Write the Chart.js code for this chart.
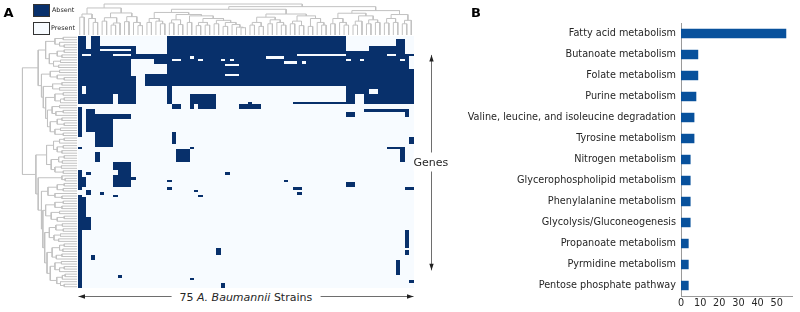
<!DOCTYPE html>
<html>
<head>
<meta charset="utf-8">
<script src="https://cdn.jsdelivr.net/npm/chart.js@4.4.1/dist/chart.umd.min.js"></script>
<style>
  html, body { margin: 0; padding: 0; background: #fff; }
  body { width: 800px; height: 312px; position: relative; overflow: hidden;
         font-family: "DejaVu Sans", sans-serif; color: #262626; }
  #heat { position: absolute; left: 0; top: 0; }
  #bars { position: absolute; left: 440px; top: 0; }
  .lbl { position: absolute; white-space: nowrap; line-height: 1; transform: translate(-50%, -50%); }
  .panel { font-weight: bold; font-size: 13px; color: #000; }
  .key { position: absolute; width: 15px; height: 11px; border: 1px solid #333; }
  .keytxt { position: absolute; font-size: 6.4px; line-height: 1; transform: translateY(-50%); white-space: nowrap; }
</style>
</head>
<body>
<canvas id="heat" width="440" height="312"></canvas>
<canvas id="bars" width="360" height="312"></canvas>

<div class="lbl panel" style="left:8.5px; top:11.5px;">A</div>
<div class="lbl panel" style="left:476px; top:11.5px;">B</div>
<div class="key" style="left:33px; top:3.5px; background:#08306b;"></div>
<div class="keytxt" style="left:52px; top:9.7px;">Absent</div>
<div class="key" style="left:33px; top:22px; background:#f7fbff;"></div>
<div class="keytxt" style="left:51px; top:27.7px;">Present</div>
<div class="lbl" style="left:430.8px; top:161.5px; font-size:11px; background:#fff; padding:4px 0;">Genes</div>
<div class="lbl" style="left:245.8px; top:296.6px; font-size:11px; background:#fff; padding:1px 8px;">75 <i>A. Baumannii</i> Strains</div>

<script>
// panel A: presence / absence of genes across strains
const nStrains = 75;
const nGenes = 100;

// [firstStrain, lastStrain + 1, firstGene, lastGene + 1]
const absentBlocks = [
  [0, 2, 0, 27], [2, 3, 5, 27], [3, 5, 0, 27], [5, 13, 4, 27],
  [13, 20, 7, 9], [17, 20, 9, 11], [15, 20, 15, 20], [20, 60, 0, 20],
  [20, 21, 20, 27], [21, 23, 27, 29], [25, 31, 23, 27], [25, 26, 27, 29],
  [27, 31, 27, 29], [38, 39, 26, 27], [36, 41, 27, 29], [48, 60, 26, 27],
  [60, 65, 6, 27], [65, 71, 4, 27], [71, 73, 1, 27], [73, 75, 7, 27],
  [60, 62, 30, 32], [64, 74, 29, 30], [73, 74, 29, 32], [74, 75, 40, 43],
  [69, 73, 44, 45], [72, 73, 45, 50],
  [0, 1, 28, 40], [0, 1, 44, 45], [2, 4, 29, 38], [4, 8, 31, 44], [8, 12, 31, 33],
  [21, 22, 38, 43], [22, 25, 45, 50], [25, 26, 44, 45], [4, 5, 46, 50],
  [8, 12, 50, 60], [12, 13, 56, 57], [0, 1, 53, 61], [1, 2, 56, 60],
  [2, 3, 54, 55], [2, 3, 61, 63], [5, 6, 62, 63], [8, 9, 63, 64],
  [20, 21, 57, 58], [20, 21, 60, 61], [26, 27, 61, 62], [27, 28, 63, 64],
  [33, 34, 54, 55], [0, 1, 63, 100], [1, 2, 64, 77], [2, 3, 72, 77],
  [3, 4, 87, 89], [9, 10, 95, 96], [25, 26, 96, 97], [31, 32, 84, 87],
  [32, 33, 98, 100], [46, 47, 57, 58], [48, 50, 60, 61], [49, 50, 62, 63],
  [60, 62, 58, 60], [73, 75, 60, 61], [73, 74, 77, 84], [73, 74, 85, 87],
  [71, 72, 89, 95], [74, 75, 97, 98]
];

// present cells inside the absent blocks
const presentGaps = [
  [1, 2, 20, 23], [5, 12, 5, 6], [8, 12, 7, 8], [1, 3, 7, 8], [8, 9, 23, 27],
  [12, 13, 9, 16], [21, 23, 9, 10], [25, 26, 8, 9], [27, 28, 9, 10],
  [32, 33, 9, 10], [34, 35, 9, 10], [33, 36, 11, 12], [33, 36, 15, 16],
  [42, 46, 8, 9], [49, 60, 7, 8], [46, 49, 10, 11], [50, 51, 10, 11],
  [62, 64, 23, 27], [65, 67, 21, 23], [69, 71, 7, 8], [60, 61, 9, 10],
  [63, 64, 9, 10], [72, 73, 9, 10], [74, 75, 8, 13], [8, 9, 53, 55]
];

// dendrograms: [height, left, right], leaves are strain / gene indices
const strainTree = [1.0,
  [0.85, [0.62, [0.5, 0, 1], [0.45, 2, [0.3, 3, 4]]],
         [0.66, [0.48, [0.35, 5, 6], [0.28, [0.2, 7, 8], 9]], [0.52, [0.33, 10, 11], [0.3, 12, [0.18, 13, 14]]]]],
  [0.9,
    [0.8,
      [0.68, [0.45, [0.3, 15, 16], [0.35, 17, [0.25, 18, 19]]],
             [0.6, [0.4, [0.28, 20, 21], [0.22, 22, 23]],
                   [0.55, [0.3, 24, 25],
                          [0.45, [0.3, [0.18, 26, 27], [0.2, 28, 29]],
                                 [0.38, [0.25, 30, 31], [0.3, [0.15, 32, 33], [0.22, 34, [0.12, 35, [0.1, 36, 37]]]]]]]]],
      [0.62, [0.5, [0.3, [0.2, 38, 39], [0.15, 40, 41]], [0.4, [0.25, 42, 43], [0.3, 44, [0.2, 45, 46]]]],
             [0.55, [0.35, [0.25, 47, 48], [0.18, 49, 50]], [0.45, [0.15, 51, 52], [0.3, 53, [0.2, 54, 55]]]]]],
    [0.75, [0.65, [0.45, [0.25, 56, 57], [0.3, 58, [0.2, 59, 60]]],
                  [0.55, [0.35, [0.2, 61, 62], 63], [0.4, [0.25, 64, 65], [0.3, 66, 67]]]],
           [0.6, [0.45, [0.28, 68, 69], [0.3, 70, 71]], [0.38, [0.25, 72, 73], 74]]]]
];

const geneTree = [1.0,
  [0.66,
    [0.5, [0.3, [0.12, 0, 1], [0.2, 2, [0.1, 3, 4]]],
          [0.42, [0.25, [0.1, 5, 6], [0.15, 7, 8]], [0.33, [0.18, 9, 10], [0.22, 11, 12]]]],
    [0.59, [0.4, [0.2, 13, 14], [0.25, 15, [0.1, 16, 17]]],
      [0.55, [0.35, [0.15, 18, 19], [0.2, 20, 21]],
        [0.5, [0.3, [0.12, 22, 23], [0.18, [0.1, 24, 25], 26]],
          [0.46, [0.36, [0.2, 27, 28], [0.28, [0.12, 29, 30], 31]],
            [0.4, [0.25, [0.15, 32, 33], [0.1, 34, 35]], [0.3, [0.18, 36, 37], [0.12, 38, 39]]]]]]]],
  [0.71,
    [0.48, [0.33, [0.2, [0.1, 40, 41], 42], [0.25, [0.12, 43, 44], [0.15, 45, 46]]],
           [0.38, [0.22, [0.1, 47, 48], [0.14, 49, 50]], [0.3, [0.16, 51, 52], [0.12, 53, 54]]]],
    [0.66, [0.15, 55, [0.08, 56, 57]],
      [0.59, [0.45, [0.25, [0.1, 58, 59], [0.12, 60, 61]], [0.3, 62, [0.15, 63, 64]]],
        [0.56, [0.5, [0.3, [0.12, 65, 66], [0.15, 67, 68]], [0.38, [0.2, 69, 70], [0.25, [0.1, 71, 72], 73]]],
          [0.52, [0.42, [0.28, [0.14, 74, 75], [0.12, 76, 77]], [0.32, [0.18, 78, 79], [0.22, 80, 81]]],
            [0.47, [0.36, [0.2, [0.1, 82, 83], [0.13, 84, 85]], [0.27, [0.15, 86, 87], 88]],
              [0.4, [0.3, [0.16, 89, 90], [0.2, [0.1, 91, 92], 93]],
                    [0.26, [0.14, [0.08, 94, 95], 96], [0.18, 97, [0.1, 98, 99]]]]]]]]]]
];

// panel B: genes per pathway
const pathways = [
  'Fatty acid metabolism', 'Butanoate metabolism', 'Folate metabolism', 'Purine metabolism',
  'Valine, leucine, and isoleucine degradation', 'Tyrosine metabolism', 'Nitrogen metabolism',
  'Glycerophospholipid metabolism', 'Phenylalanine metabolism', 'Glycolysis/Gluconeogenesis',
  'Propanoate metabolism', 'Pyrmidine metabolism', 'Pentose phosphate pathway'
];
const geneCounts = [55, 9, 9, 8, 7, 7, 5, 5, 5, 5, 4, 4, 4];
const countTicks = [0, 10, 20, 30, 40, 50];

const absentColor = '#08306b';
const presentColor = '#f7fbff';
const treeColor = '#c2c2c2';

// build the presence matrix
const matrix = Array.from({ length: nGenes }, () => new Array(nStrains).fill(0));
function paint(list, v) {
  list.forEach(([c0, c1, r0, r1]) => {
    for (let r = r0; r < r1; r++) for (let c = c0; c < c1; c++) matrix[r][c] = v;
  });
}
paint(absentBlocks, 1);
paint(presentGaps, 0);

// walk a tree, emit U-shaped links as (position, height) polylines
function treeLinks(node, out) {
  if (typeof node === 'number') return { pos: node + 0.5, h: 0 };
  const [h, a, b] = node;
  const A = treeLinks(a, out), B = treeLinks(b, out);
  out.push([[A.pos, A.h], [A.pos, h], [B.pos, h], [B.pos, B.h]]);
  return { pos: (A.pos + B.pos) / 2, h };
}
function treeData(tree, toXY) {
  const links = [];
  treeLinks(tree, links);
  const pts = [];
  links.forEach(l => {
    l.forEach(([p, h]) => pts.push(toXY(p, h)));
    pts.push({ x: pts[pts.length - 1].x, y: null });
  });
  return pts;
}
// leaves sit at 0, merges are lifted a little so leaf stems stay visible
const lift = h => (h > 0 ? 0.15 + 0.85 * h : 0);
const topTreePts = treeData(strainTree, (p, h) => ({ x: p, y: -0.4 - lift(h) * 12.3 }));
const leftTreePts = treeData(geneTree, (p, h) => ({ x: -0.1 - lift(h) * 12.2, y: p }));

function arrow(ctx, x0, y0, x1, y1) {
  const a = Math.atan2(y1 - y0, x1 - x0), L = 6.5, W = 2.2;
  ctx.beginPath(); ctx.moveTo(x0, y0); ctx.lineTo(x1, y1); ctx.stroke();
  [[x1, y1, a], [x0, y0, a + Math.PI]].forEach(([x, y, t]) => {
    ctx.beginPath();
    ctx.moveTo(x, y);
    ctx.lineTo(x - L * Math.cos(t) + W * Math.sin(t), y - L * Math.sin(t) - W * Math.cos(t));
    ctx.lineTo(x - L * Math.cos(t) - W * Math.sin(t), y - L * Math.sin(t) + W * Math.cos(t));
    ctx.closePath(); ctx.fill();
  });
}

const heatmapPlugin = {
  id: 'heatmap',
  beforeDatasetsDraw(chart) {
    const { ctx, scales: { x, y } } = chart;
    const px = v => Math.round(x.getPixelForValue(v));
    const py = v => Math.round(y.getPixelForValue(v));
    ctx.save();
    ctx.fillStyle = presentColor;
    ctx.fillRect(px(0), py(0), px(nStrains) - px(0), py(nGenes) - py(0));
    ctx.fillStyle = absentColor;
    matrix.forEach((row, r) => {
      let c = 0;
      while (c < nStrains) {
        if (!row[c]) { c++; continue; }
        let e = c;
        while (e < nStrains && row[e]) e++;
        ctx.fillRect(px(c), py(r), px(e) - px(c), py(r + 1) - py(r));
        c = e;
      }
    });
    ctx.restore();
  },
  afterDraw(chart) {
    const { ctx, scales: { x, y } } = chart;
    ctx.save();
    ctx.strokeStyle = '#6e6e6e';
    ctx.fillStyle = '#222';
    ctx.lineWidth = 1;
    const by = y.getPixelForValue(nGenes) + 8.5;
    arrow(ctx, x.getPixelForValue(0) + 1, by, x.getPixelForValue(nStrains), by);
    const ax = Math.round(x.getPixelForValue(nStrains) + 17) + 0.5;
    arrow(ctx, ax, y.getPixelForValue(7.5), ax, y.getPixelForValue(93));
    ctx.restore();
  }
};

new Chart(document.getElementById('heat'), {
  type: 'scatter',
  data: {
    datasets: [
      { data: topTreePts, showLine: true, spanGaps: false, borderColor: treeColor, borderWidth: 1,
        pointRadius: 0, pointHoverRadius: 0 },
      { data: leftTreePts, showLine: true, spanGaps: false, borderColor: treeColor, borderWidth: 1,
        pointRadius: 0, pointHoverRadius: 0 }
    ]
  },
  options: {
    responsive: false,
    animation: false,
    events: [],
    layout: { padding: { left: 21.5, right: 26.5, top: 3, bottom: 24 } },
    plugins: { legend: { display: false }, tooltip: { enabled: false } },
    scales: {
      x: { type: 'linear', min: -12.5, max: nStrains, display: false },
      y: { type: 'linear', min: -13.1, max: nGenes, reverse: true, display: false }
    }
  },
  plugins: [heatmapPlugin]
});

const tickFont = { family: 'DejaVu Sans', size: 9.7 };
new Chart(document.getElementById('bars'), {
  type: 'bar',
  data: {
    labels: pathways,
    datasets: [{ data: geneCounts, backgroundColor: '#08519c', barPercentage: 0.45, categoryPercentage: 1 }]
  },
  options: {
    indexAxis: 'y',
    responsive: false,
    animation: false,
    events: [],
    layout: { padding: { left: 0, right: 8, top: 23, bottom: 0 } },
    plugins: { legend: { display: false }, tooltip: { enabled: false } },
    scales: {
      x: {
        min: 0, max: 58,
        grid: { display: false, drawTicks: false },
        border: { display: true, color: '#9a9a9a', width: 1 },
        ticks: { color: '#262626', font: tickFont, padding: 2, maxRotation: 0 },
        afterBuildTicks(s) { s.ticks = countTicks.map(v => ({ value: v })); },
        afterFit(s) { s.height = 16; }
      },
      y: {
        grid: { display: false, drawTicks: false },
        border: { display: true, color: '#9a9a9a', width: 1 },
        ticks: { color: '#262626', font: tickFont, padding: 5, autoSkip: false },
        afterFit(s) { s.width = 241; }
      }
    }
  }
});
</script>
</body>
</html>
